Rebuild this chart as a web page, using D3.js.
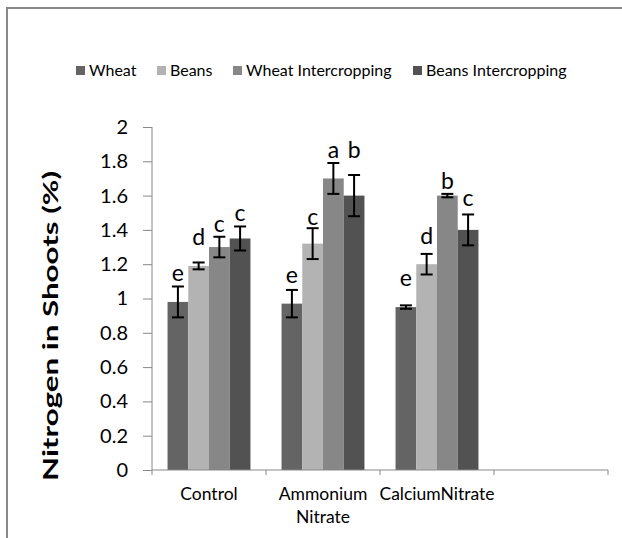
<!DOCTYPE html>
<meta charset="utf-8">
<style>
body { margin: 0; background: #fff; }
svg { display: block; font-family: Lato, "Open Sans", sans-serif; }
</style>
<body>
<script src="https://cdn.jsdelivr.net/npm/d3@7"></script>
<script>

// data
var groups = ["Control", "Ammonium Nitrate", "CalciumNitrate", ""];
var series = ["Wheat", "Beans", "Wheat Intercropping", "Beans Intercropping"];
var colors = ["#646464", "#b3b3b3", "#878787", "#525252"];

var wheat      = [0.98, 0.97, 0.95];
var beans      = [1.19, 1.32, 1.20];
var wheatInter = [1.30, 1.70, 1.60];
var beansInter = [1.35, 1.60, 1.40];

var wheatErr      = [0.09, 0.08, 0.01];
var beansErr      = [0.02, 0.09, 0.06];
var wheatInterErr = [0.06, 0.09, 0.01];
var beansInterErr = [0.07, 0.12, 0.09];

// significance letters and the level (in % N) where each one sits
var wheatLetters      = ["e", "e", "e"];
var beansLetters      = ["d", "c", "d"];
var wheatInterLetters = ["c", "a", "b"];
var beansInterLetters = ["c", "b", "c"];

var wheatLetterAt      = [1.10, 1.09, 1.07];
var beansLetterAt      = [1.31, 1.43, 1.32];
var wheatInterLetterAt = [1.39, 1.82, 1.64];
var beansInterLetterAt = [1.45, 1.82, 1.54];

var yTicks = [0, 0.2, 0.4, 0.6, 0.8, 1, 1.2, 1.4, 1.6, 1.8, 2];

var values = [wheat, beans, wheatInter, beansInter];
var errs = [wheatErr, beansErr, wheatInterErr, beansInterErr];
var letters = [wheatLetters, beansLetters, wheatInterLetters, beansInterLetters];
var letterAt = [wheatLetterAt, beansLetterAt, wheatInterLetterAt, beansInterLetterAt];

var width = 622, height = 538;
var margin = {top: 127, right: 14, bottom: 68, left: 152};
var w = width - margin.left - margin.right,
    h = height - margin.top - margin.bottom;

var svg = d3.select("body").append("svg")
    .attr("width", width)
    .attr("height", height);

// chart frame (only top and left edges show)
svg.append("path")
    .attr("d", "M7," + height + "V8H" + width)
    .attr("fill", "none")
    .attr("stroke", "#888")
    .attr("stroke-width", 2);

var g = svg.append("g")
    .attr("transform", "translate(" + margin.left + "," + margin.top + ")");

var x0 = d3.scaleBand().domain(d3.range(groups.length)).range([0, w]);
var x1 = d3.scaleBand().domain(d3.range(series.length))
    .range([0, x0.bandwidth()]).paddingOuter(0.75).paddingInner(0);
var y = d3.scaleLinear().domain([0, 2]).range([h, 0]);

// bars
series.forEach(function(s, i) {
    var sg = g.append("g");
    sg.selectAll("rect")
        .data(values[i])
        .enter().append("rect")
        .attr("x", function(d, j) { return x0(j) + x1(i); })
        .attr("width", x1.bandwidth())
        .attr("y", function(d) { return y(d); })
        .attr("height", function(d) { return h - y(d); })
        .attr("fill", colors[i]);

    // error bars
    values[i].forEach(function(v, j) {
        var cx = x0(j) + x1(i) + x1.bandwidth() / 2;
        var e = errs[i][j];
        var eg = sg.append("g").attr("stroke", "#000").attr("stroke-width", 2);
        eg.append("line").attr("x1", cx).attr("x2", cx).attr("y1", y(v - e)).attr("y2", y(v + e));
        eg.append("line").attr("x1", cx - 6).attr("x2", cx + 6).attr("y1", y(v - e)).attr("y2", y(v - e));
        eg.append("line").attr("x1", cx - 6).attr("x2", cx + 6).attr("y1", y(v + e)).attr("y2", y(v + e));

        sg.append("text")
            .attr("x", cx)
            .attr("y", y(letterAt[i][j]))
            .attr("text-anchor", "middle")
            .attr("font-size", 23)
            .text(letters[i][j]);
    });
});

// y axis
var yAxis = g.append("g")
    .call(d3.axisLeft(y).tickValues(yTicks).tickSize(9).tickPadding(15)
        .tickFormat(function(d) { return String(d); }));
yAxis.select(".domain").attr("stroke", "#888").attr("d", "M0," + h + "V0");
yAxis.selectAll(".tick line").attr("stroke", "#888");
yAxis.selectAll(".tick text").attr("font-size", 20).attr("font-family", "Lato, sans-serif").attr("fill", "#000");

// x axis
var xAxis = g.append("g")
    .attr("transform", "translate(0," + h + ")");
xAxis.append("line").attr("x1", 0).attr("x2", w).attr("stroke", "#888");
xAxis.selectAll(".xt")
    .data(d3.range(groups.length + 1))
    .enter().append("line")
    .attr("x1", function(d) { return d * x0.step(); })
    .attr("x2", function(d) { return d * x0.step(); })
    .attr("y1", 0).attr("y2", 5)
    .attr("stroke", "#888");
xAxis.selectAll(".xl")
    .data(groups)
    .enter().append("text")
    .attr("x", function(d, i) { return x0(i) + x0.bandwidth() / 2; })
    .attr("y", 30)
    .attr("text-anchor", "middle")
    .attr("font-size", 17.5)
    .each(function(d) {
        var parts = d === "Ammonium Nitrate" ? ["Ammonium", "Nitrate"] : [d];
        var t = d3.select(this);
        parts.forEach(function(p, k) {
            t.append("tspan").attr("x", t.attr("x")).attr("dy", k ? 23 : 0).text(p);
        });
    });

// y title
svg.append("text")
    .attr("transform", "translate(58,326) rotate(-90)")
    .attr("text-anchor", "middle")
    .attr("font-weight", "bold")
    .attr("font-size", 21)
    .attr("textLength", 310)
    .attr("lengthAdjust", "spacingAndGlyphs")
    .text("Nitrogen in Shoots (%)");

// legend
var legendX = [76, 157, 233, 413];
var leg = svg.append("g").attr("transform", "translate(0,66)");
series.forEach(function(s, i) {
    leg.append("rect").attr("x", legendX[i]).attr("y", 0).attr("width", 9).attr("height", 9).attr("fill", colors[i]);
    leg.append("text").attr("x", legendX[i] + 13).attr("y", 10).attr("font-size", 16).text(s);
});

</script>
</body>
